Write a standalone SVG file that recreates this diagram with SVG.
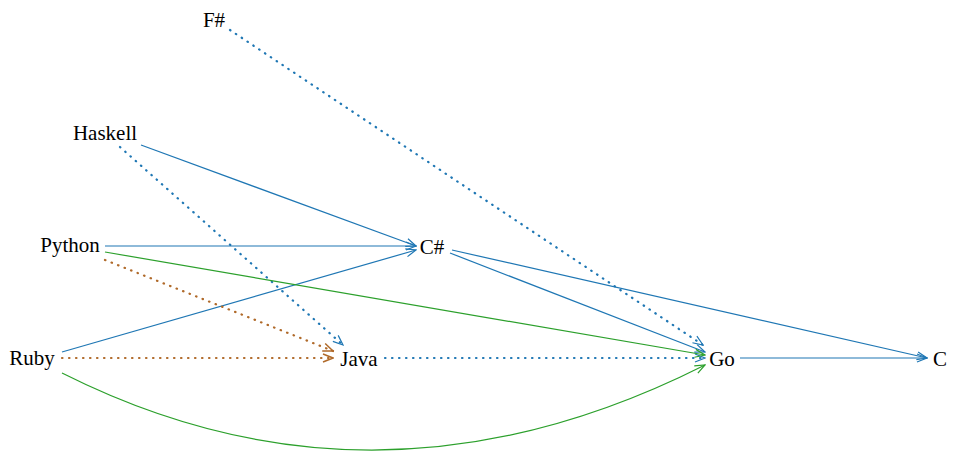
<svg xmlns="http://www.w3.org/2000/svg" width="953" height="455" viewBox="0 0 953 455">
<style>
text{font-family:"Liberation Serif","Times New Roman",serif;font-size:21px;fill:#000;text-anchor:middle;dominant-baseline:central}
.e{fill:none;stroke-width:1.2}
.b{stroke:#1f77b4}
.g{stroke:#2ca02c}
.o{stroke:#b06a2a}
.d{stroke-dasharray:0.5 6.5;stroke-width:2.2;stroke-linecap:round}
</style>
<defs>
<marker id="ab" viewBox="0 0 12 10" refX="11" refY="5" markerWidth="12" markerHeight="10" markerUnits="userSpaceOnUse" orient="auto"><path d="M1,1 L11,5 L1,9" fill="none" stroke="#1f77b4" stroke-width="1.2"/></marker>
<marker id="ag" viewBox="0 0 12 10" refX="11" refY="5" markerWidth="12" markerHeight="10" markerUnits="userSpaceOnUse" orient="auto"><path d="M1,1 L11,5 L1,9" fill="none" stroke="#2ca02c" stroke-width="1.2"/></marker>
<marker id="ao" viewBox="0 0 12 10" refX="11" refY="5" markerWidth="12" markerHeight="10" markerUnits="userSpaceOnUse" orient="auto"><path d="M1,1 L11,5 L1,9" fill="none" stroke="#b06a2a" stroke-width="1.5"/></marker>
</defs>
<g id="edges">
<path class="e b" d="M141,145 L416,246" marker-end="url(#ab)"/>
<path class="e b" d="M105,246 L416,246" marker-end="url(#ab)"/>
<path class="e b" d="M62,352 L416,250" marker-end="url(#ab)"/>
<path class="e b d" d="M120,147 L343,345" marker-end="url(#ab)"/>
<path class="e o d" d="M105,260 L333,351" marker-end="url(#ao)"/>
<path class="e o d" d="M62,358 L333,358" marker-end="url(#ao)"/>
<path class="e b d" d="M385,358 L705,358" marker-end="url(#ab)"/>
<path class="e b d" d="M230,30 L703,345" marker-end="url(#ab)"/>
<path class="e b" d="M450,253 L705,352" marker-end="url(#ab)"/>
<path class="e g" d="M105,252 L705,355" marker-end="url(#ag)"/>
<path class="e g" d="M62,373 Q376,531 705,365" marker-end="url(#ag)"/>
<path class="e b" d="M452,250 L927,358" marker-end="url(#ab)"/>
<path class="e b" d="M740,358 L927,358" marker-end="url(#ab)"/>
</g>
<g id="n-fsharp"><text x="214" y="20">F#</text></g>
<g id="n-haskell"><text x="105" y="133">Haskell</text></g>
<g id="n-python"><text x="70" y="245">Python</text></g>
<g id="n-ruby"><text x="32" y="358">Ruby</text></g>
<g id="n-csharp"><text x="432" y="247">C#</text></g>
<g id="n-java"><text x="359" y="359">Java</text></g>
<g id="n-go"><text x="722" y="359">Go</text></g>
<g id="n-c"><text x="940" y="359">C</text></g>
</svg>
